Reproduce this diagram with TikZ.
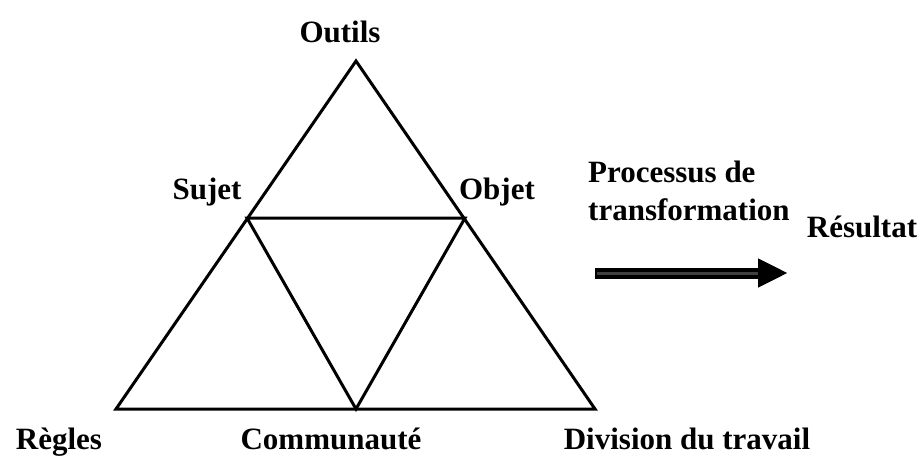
\documentclass[tikz,border=0pt]{standalone}
\usepackage{fontspec}
\setmainfont{Liberation Serif}
\usetikzlibrary{arrows.meta}
\begin{document}
\begin{tikzpicture}[x=1pt,y=-1pt,
  edge/.style={line width=3pt, line join=miter},
  lbl/.style={anchor=base, inner sep=0pt, font=\fontsize{31}{36}\selectfont\bfseries},
  lbll/.style={anchor=base west, inner sep=0pt, font=\fontsize{31}{36}\selectfont\bfseries}]
\useasboundingbox (0,0) rectangle (919,458);
% vertices
\coordinate (O) at (356,61);
\coordinate (R) at (116,409);
\coordinate (D) at (595,409);
\coordinate (S) at (247,218);
\coordinate (B) at (465,218);
\coordinate (C) at (356,409);
% triangles
\draw[edge] (O) -- (R) -- (D) -- cycle;
\draw[edge] (S) -- (B) -- (C) -- cycle;
% labels
\node[lbl] (outils) at (340,42) {Outils};
\node[lbl] (sujet) at (207,199) {Sujet};
\node[lbl] (objet) at (497,199) {Objet};
\node[lbl] (regles) at (59,449) {Règles};
\node[lbl] (comm) at (331,449) {Communauté};
\node[lbl] (div) at (687,449) {Division du travail};
\node[lbll] (proc) at (588,182) {Processus de};
\node[lbll] (trans) at (588,220) {transformation};
\node[lbl] (res) at (862,237) {Résultat};
% arrow
\coordinate (a1) at (595,273);
\coordinate (a2) at (788,273);
\draw[line width=11pt, -{Triangle[length=30pt,width=27pt]}] (a1) -- (a2);
\draw[line width=3pt, color=black!75] (597,273) -- (758,273);
\end{tikzpicture}
\end{document}
